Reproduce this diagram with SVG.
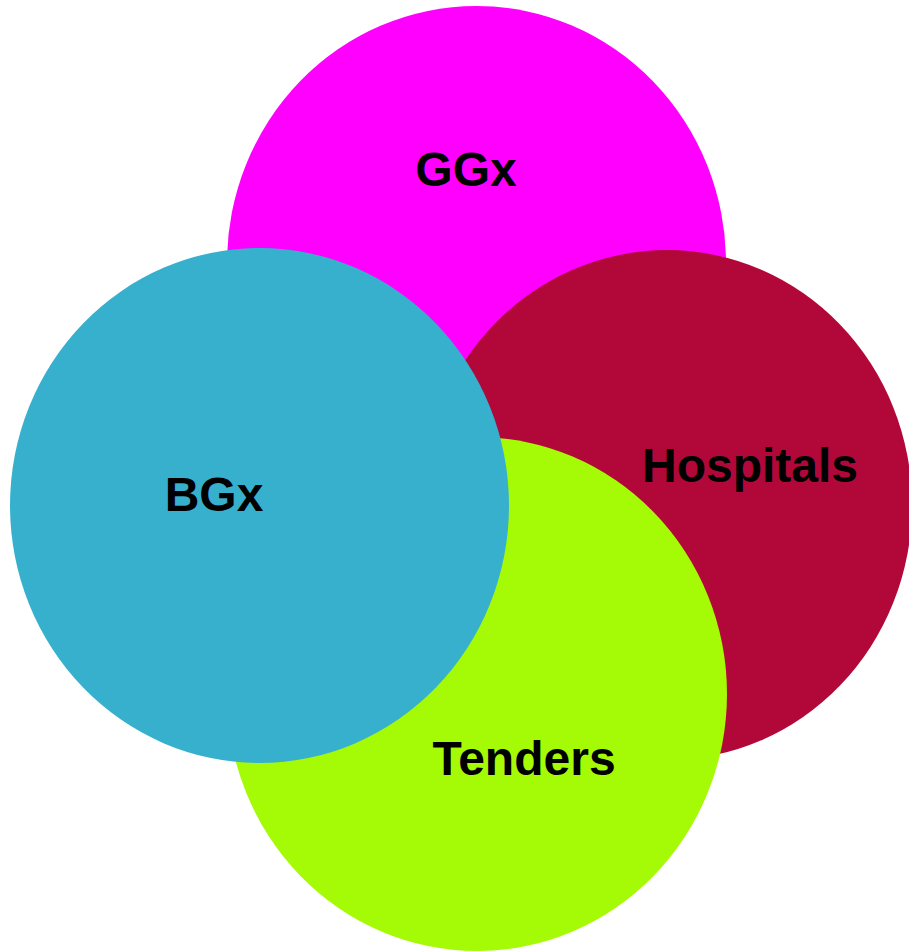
<svg xmlns="http://www.w3.org/2000/svg" width="909" height="952" viewBox="0 0 909 952">
<style>
.lbl{font-family:"Liberation Sans",Arial,sans-serif;font-weight:bold;font-size:48px;fill:#000;text-anchor:middle}
</style>
<rect width="909" height="952" fill="#fff"/>
<g id="ggx"><ellipse cx="476.5" cy="263" rx="249.5" ry="257" fill="#FF00FF"/></g>
<g id="hospitals"><ellipse cx="667" cy="505" rx="245" ry="255" fill="#B10839"/></g>
<g id="tenders"><ellipse cx="477" cy="694" rx="250" ry="257" fill="#A5FA05"/></g>
<g id="bgx"><ellipse cx="259.5" cy="505.5" rx="249.5" ry="257.5" fill="#37B0CE"/></g>
<g id="labels">
<text class="lbl" x="466" y="186">GGx</text>
<text class="lbl" x="750" y="482">Hospitals</text>
<text class="lbl" x="214" y="511">BGx</text>
<text class="lbl" x="524" y="775">Tenders</text>
</g>
<g id="connectors"/>
</svg>
